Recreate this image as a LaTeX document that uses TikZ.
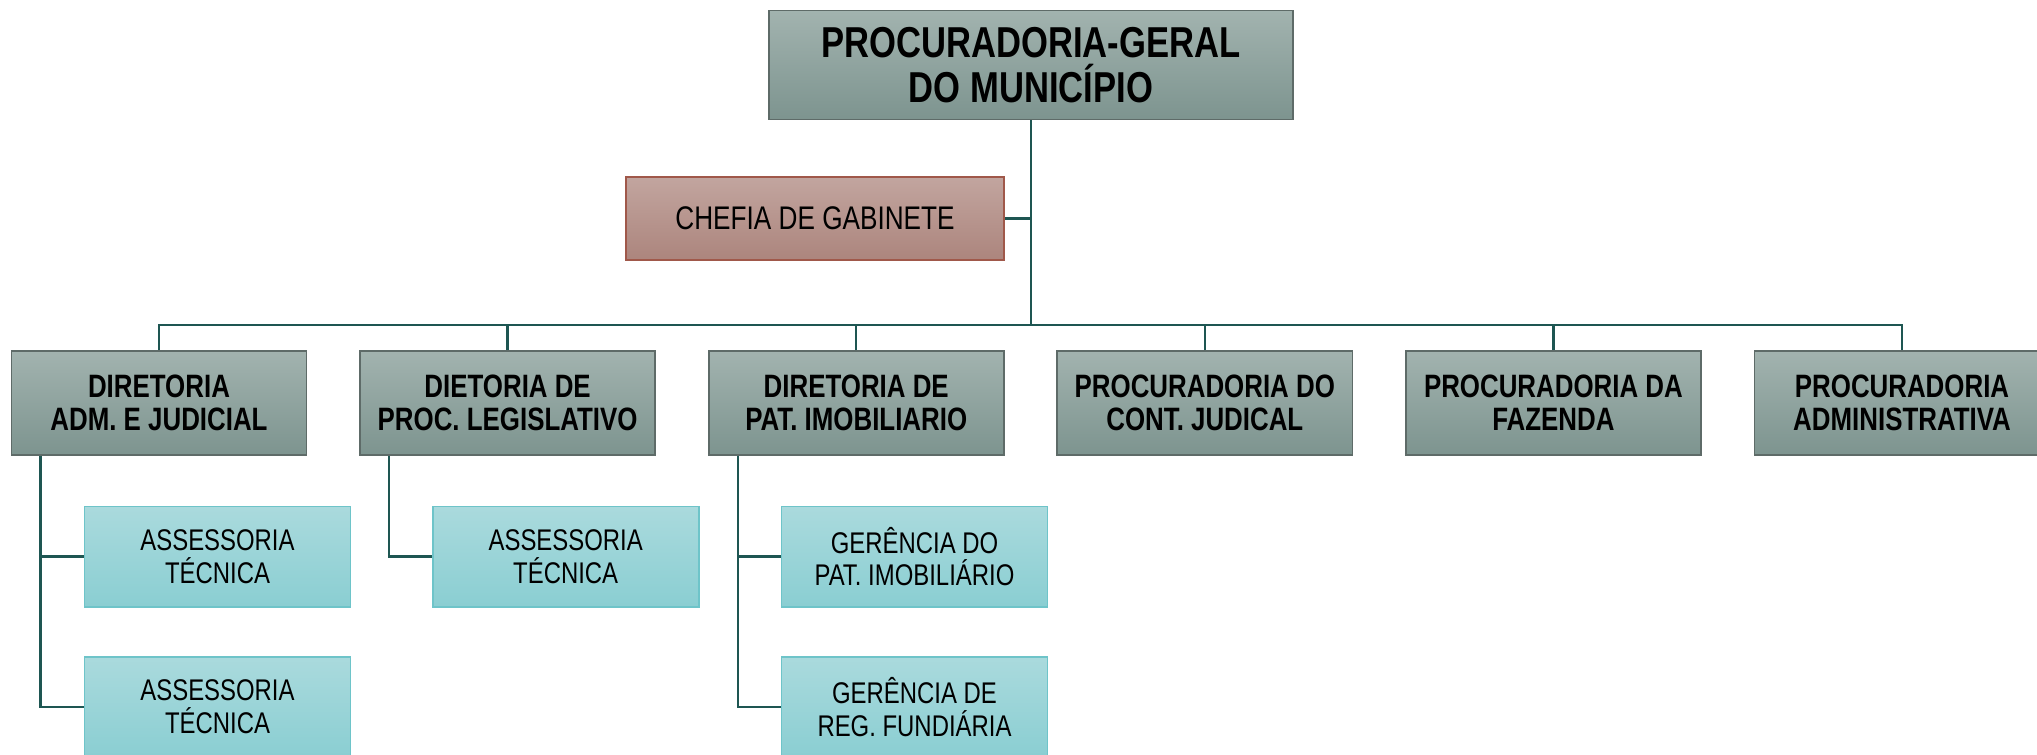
\documentclass[tikz,border=0pt]{standalone}
\usepackage{fontspec}
\setmainfont{Liberation Sans}[FakeStretch=0.8]
\usetikzlibrary{positioning}

\definecolor{cinzaTopo}{HTML}{A2B3AF}
\definecolor{cinzaBase}{HTML}{7D948F}
\definecolor{cinzaBorda}{HTML}{5E6B68}
\definecolor{rosaTopo}{HTML}{C2A59F}
\definecolor{rosaBase}{HTML}{AC857D}
\definecolor{rosaBorda}{HTML}{A0584A}
\definecolor{aguaTopo}{HTML}{AADADD}
\definecolor{aguaBase}{HTML}{8ACED2}
\definecolor{aguaBorda}{HTML}{6EC4C9}
\definecolor{linhaCor}{HTML}{1E5652}

\tikzset{
  chefe/.style={draw=cinzaBorda, line width=0.5pt, top color=cinzaTopo, bottom color=cinzaBase,
    align=center, inner sep=0pt},
  gabinete/.style={draw=rosaBorda, line width=0.5pt, top color=rosaTopo, bottom color=rosaBase,
    align=center, inner sep=0pt, minimum width=3.78cm, minimum height=0.83cm,
    font=\fontsize{9.3}{10}\selectfont},
  diretoria/.style={chefe, minimum width=2.95cm, minimum height=1.04cm,
    font=\fontsize{9.2}{9.45}\selectfont\bfseries},
  assessoria/.style={draw=aguaBorda, line width=0.5pt, top color=aguaTopo, bottom color=aguaBase,
    align=center, inner sep=0pt, minimum width=2.66cm, minimum height=1.0cm,
    font=\fontsize{8.5}{9.3}\selectfont},
  linha/.style={draw=linhaCor, line width=0.7pt}
}

\begin{document}
\begin{tikzpicture}[x=0.01cm, y=-0.01cm]
    \useasboundingbox (0,0) rectangle (2037,754);

    % nodes %
      \node[chefe, minimum width=5.24cm, minimum height=1.09cm,
        font=\fontsize{12.3}{12.8}\selectfont\bfseries] (pgm) at (1031,65)
        {PROCURADORIA-GERAL\\DO MUNICÍPIO};
      \node[gabinete] (chefia) at (815,218.5) {CHEFIA DE GABINETE};
      \coordinate (barra) at (1031,325);

      \node[diretoria] (dir1) at (159,403) {DIRETORIA\\ADM. E JUDICIAL};
      \node[diretoria, right of = dir1, node distance=3.484cm] (dir2) {DIETORIA DE\\PROC. LEGISLATIVO};
      \node[diretoria, right of = dir2, node distance=3.484cm] (dir3) {DIRETORIA DE\\PAT. IMOBILIARIO};
      \node[diretoria, right of = dir3, node distance=3.484cm] (proc4) {PROCURADORIA DO\\CONT. JUDICAL};
      \node[diretoria, right of = proc4, node distance=3.484cm] (proc5) {PROCURADORIA DA\\FAZENDA};
      \node[diretoria, right of = proc5, node distance=3.484cm] (proc6) {PROCURADORIA\\ADMINISTRATIVA};

      \node[assessoria] (ass1a) at (217.5,556.6) {ASSESSORIA\\TÉCNICA};
      \node[assessoria] (ass1b) at (217.5,707) {ASSESSORIA\\TÉCNICA};
      \node[assessoria] (ass2) at (565.7,556.6) {ASSESSORIA\\TÉCNICA};
      \node[assessoria] (ger1) at (914.5,556.6) {GERÊNCIA DO\\PAT. IMOBILIÁRIO};
      \node[assessoria] (ger2) at (914.5,707) {GERÊNCIA DE\\REG. FUNDIÁRIA};

      % edges %
      \draw[linha] (pgm.south) -- (barra);
      \draw[linha] (chefia.east) -- (chefia.east -| barra);
      \draw[linha] (dir1.north) -- (dir1.north |- barra) -- (proc6.north |- barra) -- (proc6.north);
      \foreach \n in {dir2, dir3, proc4, proc5}
        \draw[linha] (\n.north) -- (\n.north |- barra);

      \draw[linha] ([xshift=0.3cm]dir1.south west) |- (ass1b.west);
      \draw[linha] ([xshift=0.3cm]dir1.south west |- ass1a.west) -- (ass1a.west);
      \draw[linha] ([xshift=0.3cm]dir2.south west) |- (ass2.west);
      \draw[linha] ([xshift=0.3cm]dir3.south west) |- (ger2.west);
      \draw[linha] ([xshift=0.3cm]dir3.south west |- ger1.west) -- (ger1.west);
    \end{tikzpicture}
\end{document}
